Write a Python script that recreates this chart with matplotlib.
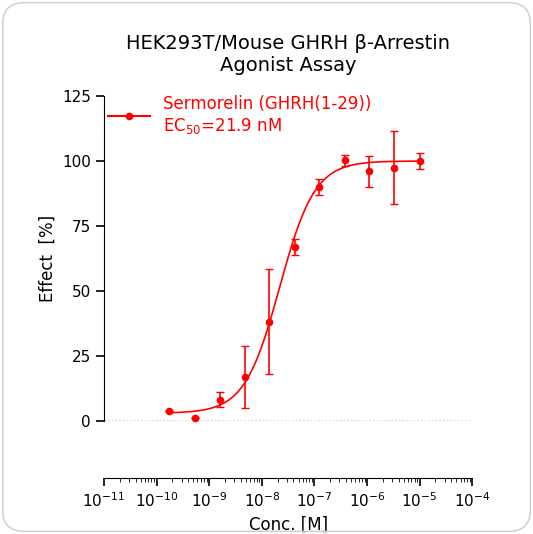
import numpy as np
import matplotlib.pyplot as plt
from matplotlib.patches import FancyBboxPatch

conc = [1.7e-10, 5.4e-10, 1.6e-9, 4.8e-9, 1.4e-8, 4.3e-8, 1.2e-7, 3.8e-7, 1.1e-6, 3.3e-6, 1e-5]
effect = [3.8, 1.2, 8.2, 17, 38, 67, 90, 100.4, 96, 97.5, 100]
err_lo = [0, 0, 2.7, 12, 20, 3, 3, 2.4, 6, 14, 3]
err_hi = [0, 0, 2.8, 12, 20.5, 3, 3, 2.1, 6, 14, 3]
ec50 = 21.9e-9
bottom, top, hill = 3.0, 100.0, 1.3

fig = plt.figure(figsize=(5.33, 5.34), dpi=100)
fig.patches.append(FancyBboxPatch((0.005, 0.005), 0.99, 0.99, boxstyle="round,pad=0,rounding_size=0.04",
                                  transform=fig.transFigure, fc='none', ec='#cccccc', lw=1, zorder=10))
ax = fig.add_axes([0.195, 0.2116, 0.691, 0.6086])
red = '#ff0000'
xs = np.logspace(np.log10(1.7e-10), -5, 300)
ys = bottom + (top - bottom) / (1 + (ec50 / xs) ** hill)
ax.plot(xs, ys, color=red, lw=1.2)
ax.errorbar(conc, effect, yerr=[err_lo, err_hi], fmt='o', color=red, ms=4.5, capsize=3, elinewidth=1.2, clip_on=False)
ax.plot([], [], 'o-', color=red, ms=4.5, label='Sermorelin (GHRH(1-29))\nEC$_{50}$=21.9 nM')
ax.axhline(0, color='black', ls=':', lw=1)
ax.set_xscale('log')
ax.set_xlim(1e-11, 1e-4)
ax.set_ylim(0, 125)
ax.set_yticks([0, 25, 50, 75, 100, 125])
ax.set_xticks([10.0**k for k in range(-11, -3)])
for s in ['top', 'right']:
    ax.spines[s].set_visible(False)
ax.spines['bottom'].set_position(('outward', 41))
ax.tick_params(labelsize=11, width=1.2, length=6)
ax.tick_params(which='minor', length=3)
ax.set_xlabel('Conc. [M]', fontsize=12)
ax.set_ylabel('Effect  [%]', fontsize=12)
ax.set_title('HEK293T/Mouse GHRH β-Arrestin\nAgonist Assay', fontsize=14, pad=18)
leg = ax.legend(loc='upper left', bbox_to_anchor=(-0.03, 1.05), frameon=False, fontsize=12, handlelength=2.5)
for t in leg.get_texts():
    t.set_color(red)
fig.savefig('out.png', dpi=100)
